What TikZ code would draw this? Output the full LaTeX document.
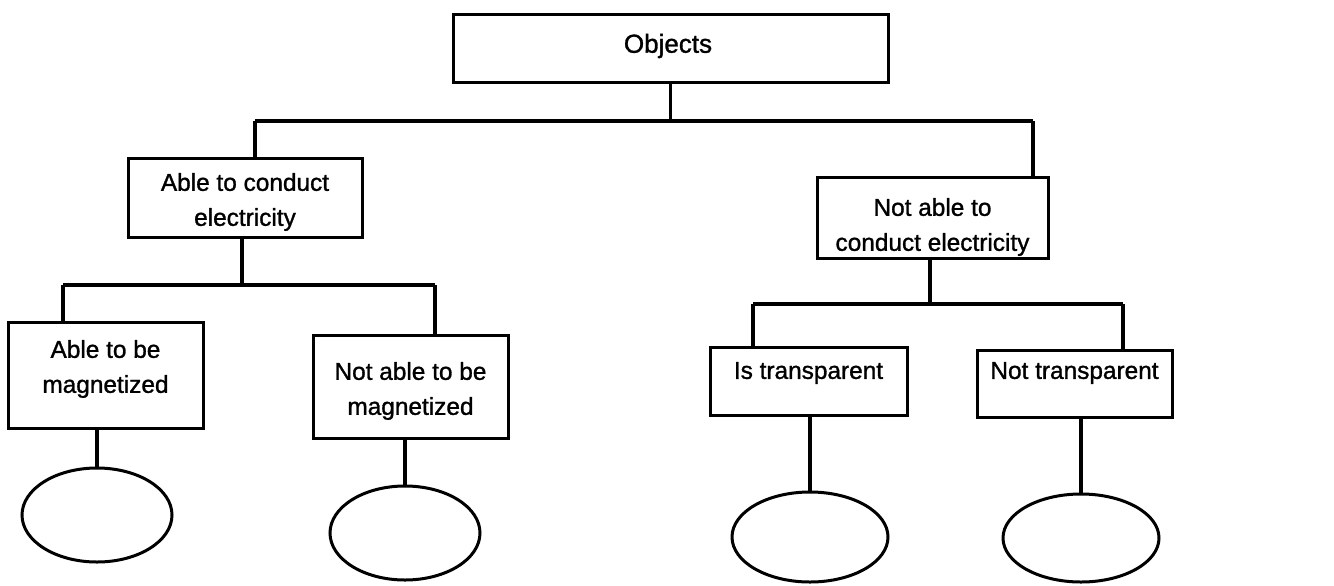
\documentclass[tikz,border=0pt]{standalone}
\usepackage{fontspec}
\setmainfont{Liberation Sans}[FakeBold=1.2]
\usetikzlibrary{shapes.geometric}
\begin{document}
\begin{tikzpicture}[x=0.5pt,y=-0.5pt,
  line width=1.5pt,
  box/.style={draw, rectangle, inner sep=0pt},
  leaf/.style={draw, ellipse, inner sep=0pt},
  txt/.style={align=center, inner sep=0pt, font=\fontsize{12.2}{17.5}\selectfont},
  link/.style={line width=1.6pt}]
\useasboundingbox (0,0) rectangle (1334,585);

% category boxes
\node[box, minimum width=217.5pt, minimum height=34pt] (obj) at (670.5,48) {};
\node[txt, font=\fontsize{13}{17}\selectfont] (objt) at (668,46) {Objects};

\node[box, minimum width=117pt, minimum height=39.5pt] (ac) at (245,197.5) {};
\node[txt] (act) at (245,202) {Able to conduct\\electricity};

\node[box, minimum width=115.5pt, minimum height=40.5pt] (nac) at (932.5,217.5) {};
\node[txt] (nact) at (932.5,227) {Not able to\\conduct electricity};

\node[box, minimum width=97.5pt, minimum height=53pt] (abm) at (105.5,375) {};
\node[txt] (abmt) at (105.5,369) {Able to be\\magnetized};

\node[box, minimum width=97.5pt, minimum height=51.5pt] (nabm) at (410.5,386.5) {};
\node[txt] (nabmt) at (410.5,391) {Not able to be\\magnetized};

\node[box, minimum width=98.5pt, minimum height=34pt] (ist) at (808.5,381) {};
\node[txt] (istt) at (808.5,373) {Is transparent};

\node[box, minimum width=97.5pt, minimum height=33.5pt] (nt) at (1074.5,383.5) {};
\node[txt] (ntt) at (1074.5,373) {Not transparent};

% empty answer ellipses
\node[leaf, minimum width=75pt, minimum height=47pt] (e1) at (97,515) {};
\node[leaf, minimum width=75pt, minimum height=47pt] (e2) at (405,533) {};
\node[leaf, minimum width=78pt, minimum height=45pt] (e3) at (810,537) {};
\node[leaf, minimum width=78pt, minimum height=44pt] (e4) at (1081,538) {};

% bus junctions
\coordinate (b0) at (670.5,121);
\coordinate (b0l) at (255,121);
\coordinate (b0r) at (1033,121);
\coordinate (b1) at (242,285);
\coordinate (b1l) at (63,285);
\coordinate (b1r) at (435,285);
\coordinate (b2) at (930,304);
\coordinate (b2l) at (753,304);
\coordinate (b2r) at (1123,304);

% top level
\draw[link] (obj.south) -- (b0);
\draw[link] (b0l) -- (b0r);
\draw[link] (b0l) -- (b0l |- ac.north);
\draw[link] (b0r) -- (b0r |- nac.north);

% conductors
\draw[link] (b1 |- ac.south) -- (b1);
\draw[link] (b1l) -- (b1r);
\draw[link] (b1l) -- (b1l |- abm.north);
\draw[link] (b1r) -- (b1r |- nabm.north);

% non-conductors
\draw[link] (b2 |- nac.south) -- (b2);
\draw[link] (b2l) -- (b2r);
\draw[link] (b2l) -- (b2l |- ist.north);
\draw[link] (b2r) -- (b2r |- nt.north);

% leaves
\draw[link] (e1.north |- abm.south) -- (e1.north);
\draw[link] (e2.north |- nabm.south) -- (e2.north);
\draw[link] (e3.north |- ist.south) -- (e3.north);
\draw[link] (e4.north |- nt.south) -- (e4.north);
\end{tikzpicture}
\end{document}
